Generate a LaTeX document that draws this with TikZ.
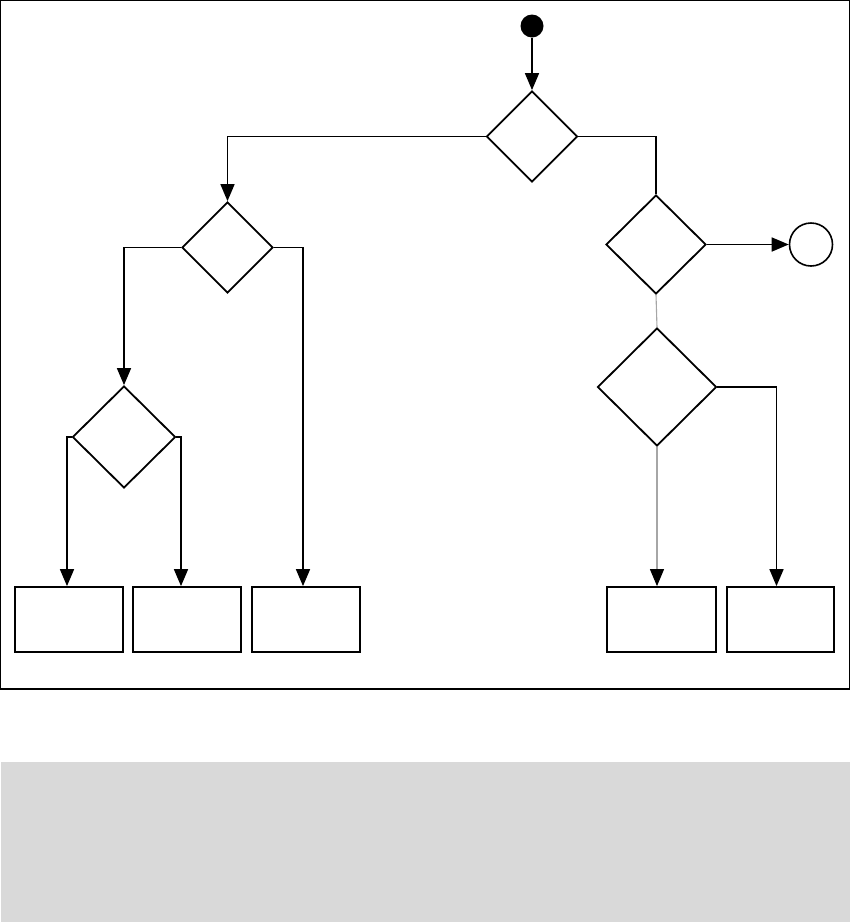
\documentclass[tikz,border=0pt]{standalone}
\usetikzlibrary{arrows.meta,shapes.geometric}
\definecolor{panelgray}{HTML}{D9D9D9}
\begin{document}
\begin{tikzpicture}[x=1pt,y=-1pt,line width=1.7pt,
  dia/.style={draw,diamond,inner sep=0pt,line width=1.8pt},
  box/.style={draw,rectangle,minimum height=65pt,inner sep=0pt,line width=1.8pt},
  arr/.style={-{Triangle[length=17pt,width=14pt,color=black]}},
  faint/.style={draw=gray!70,line width=1.1pt}]
\useasboundingbox (0,0) rectangle (852,922);
\fill[panelgray] (1,762) rectangle (850,922);
\draw[line width=1.3pt] (0.7,0.7) rectangle (849.5,689);
% nodes
\node[circle,fill=black,minimum size=23pt,inner sep=0pt] (start) at (532,26) {};
\node[dia,minimum width=91pt,minimum height=91pt] (d1) at (532,136.5) {};
\node[dia,minimum width=91pt,minimum height=91pt] (d2) at (227.5,247.5) {};
\node[dia,minimum width=100pt,minimum height=99pt] (d3) at (656,244.5) {};
\node[dia,minimum width=119pt,minimum height=118pt] (d4) at (657,387) {};
\node[dia,minimum width=103pt,minimum height=102pt] (d5) at (124,437) {};
\node[circle,draw,minimum size=43pt,inner sep=0pt,line width=1.6pt] (end) at (811,244.5) {};
\node[box,minimum width=108pt] (b1) at (69,619.5) {};
\node[box,minimum width=108pt] (b2) at (187,619.5) {};
\node[box,minimum width=108pt] (b3) at (306,619.5) {};
\node[box,minimum width=109pt] (b4) at (661.5,619.5) {};
\node[box,minimum width=107pt] (b5) at (780.5,619.5) {};
% connectors
\draw[arr] (start) -- (d1.north);
\draw[arr] (d1.west) -| (d2.north);
\draw (d1.east) -| (d3.north);
\draw[arr] (d3.east) -- (end.west);
\draw[faint] (d3.south) -- (d4.north);
\draw[arr] (d2.west) -| (d5.north);
\draw[arr] (d2.east) -| ([xshift=-3pt]b3.north);
\draw[arr] (d5.west) -| ([xshift=-2pt]b1.north);
\draw[arr] (d5.east) -| ([xshift=-6pt]b2.north);
\draw[arr,faint] (d4.south) -- (d4.south |- b4.north);
\draw[arr] (d4.east) -| ([xshift=-4pt]b5.north);
\end{tikzpicture}
\end{document}
